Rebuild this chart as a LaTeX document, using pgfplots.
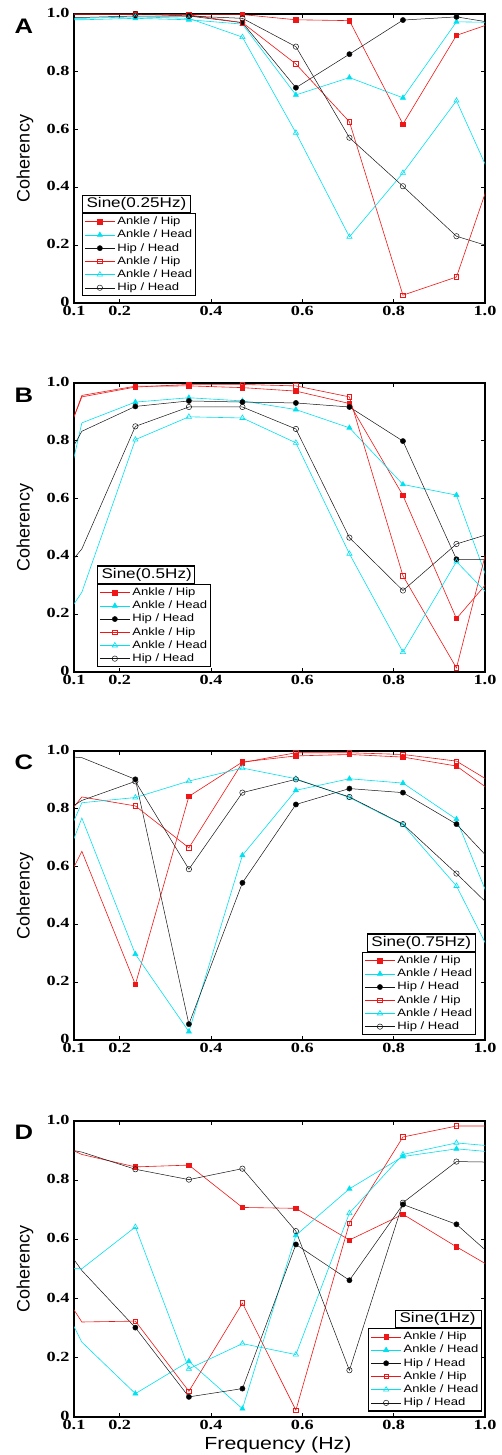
\documentclass[border=0pt]{standalone}
\usepackage{fontspec}
\usepackage{pgfplots}
\usepackage{pgfplotstable}
\pgfplotsset{compat=1.18}
\setmainfont{Liberation Serif}
\newfontfamily\lsans{Liberation Sans}
\newfontfamily\widesans[FakeStretch=1.22]{Liberation Sans}
\newfontfamily\tickfont[FakeStretch=1.3]{Liberation Serif}
\newcommand{\tk}[1]{\mbox{\tickfont\bfseries\fontsize{14}{14}\selectfont #1}}
\definecolor{myred}{RGB}{238,22,22}
\definecolor{mycyan}{RGB}{0,225,240}
\definecolor{myblack}{RGB}{20,20,20}

\pgfplotstableread{
x rf cf bf ro co bo
0      0.998 0.980 0.988 1.000 0.985 1.000
0.1172 0.998 0.980 0.988 1.000 0.985 1.000
0.2344 0.998 0.985 0.993 1.000 0.990 1.000
0.3516 0.998 0.980 0.993 0.997 0.985 0.993
0.4688 0.998 0.965 0.970 0.970 0.920 0.985
0.5859 0.980 0.720 0.745 0.827 0.589 0.887
0.7031 0.977 0.780 0.861 0.627 0.229 0.572
0.8203 0.619 0.710 0.979 0.027 0.450 0.404
0.9375 0.926 0.973 0.990 0.090 0.700 0.231
1.0547 0.990 0.970 0.960 0.630 0.290 0.174
}\dataA
\pgfplotstableread{
x rf cf bf ro co bo
0      0.455 0.050 0.500 0.480 0.000 0.200
0.1172 0.957 0.862 0.833 0.952 0.276 0.426
0.2344 0.989 0.934 0.919 0.986 0.804 0.850
0.3516 0.990 0.949 0.938 0.995 0.883 0.917
0.4688 0.984 0.938 0.934 0.995 0.879 0.917
0.5859 0.972 0.908 0.931 0.990 0.793 0.841
0.7031 0.929 0.845 0.917 0.952 0.409 0.465
0.8203 0.611 0.649 0.799 0.333 0.069 0.282
0.9375 0.185 0.612 0.390 0.014 0.382 0.443
1.0547 0.400 0.104 0.390 0.740 0.190 0.500
}\dataB
\pgfplotstableread{
x rf cf bf ro co bo
0      0.283 0.286 0.990 0.610 0.400 0.710
0.1172 0.653 0.768 0.977 0.841 0.821 0.829
0.2344 0.192 0.297 0.902 0.810 0.839 0.895
0.3516 0.843 0.029 0.055 0.665 0.896 0.591
0.4688 0.962 0.639 0.544 0.960 0.941 0.856
0.5859 0.983 0.864 0.815 0.994 0.904 0.902
0.7031 0.988 0.904 0.870 0.994 0.839 0.841
0.8203 0.979 0.889 0.856 0.988 0.745 0.747
0.9375 0.948 0.764 0.747 0.965 0.533 0.576
1.0547 0.815 0.310 0.550 0.853 0.167 0.396
}\dataC
\pgfplotstableread{
x rf cf bf ro co bo
0      0.970 0.610 0.745 0.600 0.500 0.930
0.1172 0.887 0.253 0.495 0.321 0.501 0.895
0.2344 0.845 0.079 0.302 0.324 0.642 0.837
0.3516 0.851 0.188 0.068 0.087 0.163 0.802
0.4688 0.708 0.028 0.096 0.385 0.248 0.839
0.5859 0.705 0.614 0.583 0.023 0.211 0.628
0.7031 0.598 0.771 0.462 0.655 0.689 0.158
0.8203 0.685 0.880 0.718 0.946 0.887 0.724
0.9375 0.575 0.906 0.651 0.983 0.926 0.863
1.0547 0.470 0.890 0.490 0.983 0.910 0.860
}\dataD

\tikzset{
  ttl/.style={draw=black, line width=1.1pt, fill=white, inner xsep=4pt, inner ysep=0pt,
      minimum height=17.5pt, text height=10.5pt, text depth=3pt, align=left,
      font=\widesans\fontsize{14}{14}\selectfont},
}
\pgfplotsset{
  sRF/.style={color=myred, line width=0.6pt, mark=square*, mark size=2.2pt, mark options={solid, fill=myred}, mark indices={2,3,4,5,6,7,8,9}},
  sCF/.style={color=mycyan, line width=0.6pt, mark=triangle*, mark size=2.9pt, mark options={solid, fill=mycyan}, mark indices={2,3,4,5,6,7,8,9}},
  sBF/.style={color=myblack, line width=0.5pt, mark=*, mark size=2.6pt, mark options={solid, fill=black}, mark indices={2,3,4,5,6,7,8,9}},
  sRO/.style={color=myred, line width=0.6pt, mark=square, mark size=2.3pt, mark options={solid}, mark indices={2,3,4,5,6,7,8,9}},
  sCO/.style={color=mycyan, line width=0.6pt, mark=triangle, mark size=3.0pt, mark options={solid}, mark indices={2,3,4,5,6,7,8,9}},
  sBO/.style={color=myblack, line width=0.5pt, mark=o, mark size=2.7pt, mark options={solid}, mark indices={2,3,4,5,6,7,8,9}},
  panel/.style={
    scale only axis, width=411pt, height=289pt,
    anchor=north west,
    xmin=0.1, xmax=1.0, ymin=0, ymax=1,
    xtick={0.1,0.2,0.4,0.6,0.8,1.0}, xticklabels={\tk{0.1},\tk{0.2},\tk{0.4},\tk{0.6},\tk{0.8},\tk{1.0}},
    ytick={0,0.2,0.4,0.6,0.8,1.0}, yticklabels={\tk{0},\tk{0.2},\tk{0.4},\tk{0.6},\tk{0.8},\tk{1.0}},
    tick align=inside, major tick length=4pt,
    tick style={black, line width=0.8pt},
    axis line style={black, line width=1.2pt},
    xticklabel style={inner ysep=2.5pt},
    yticklabel style={xshift=-1pt, yshift=1pt},
    clip=true,
    legend cell align=left,
    legend image code/.code={\draw[##1,mark indices={2}] plot coordinates {(0pt,0pt) (15pt,0pt) (30pt,0pt)};},
    legend style={draw=black, line width=1.1pt, fill=white,
      font=\widesans\fontsize{10.7}{12}\selectfont,
      inner xsep=2pt, inner ysep=1.5pt,
      nodes={inner sep=1.2pt, text height=8.3pt, text depth=2.5pt},
      row sep=0pt, column sep=1pt},
  },
}

\newcommand{\sixplots}[1]{%
  \addplot[sRF] table[x=x,y=rf]{#1};
  \addplot[sCF] table[x=x,y=cf]{#1};
  \addplot[sBF] table[x=x,y=bf]{#1};
  \addplot[sRO] table[x=x,y=ro]{#1};
  \addplot[sCO] table[x=x,y=co]{#1};
  \addplot[sBO] table[x=x,y=bo]{#1};
  \legend{Ankle / Hip, Ankle / Head, Hip / Head, Ankle / Hip, Ankle / Head, Hip / Head}%
}

\begin{document}
\begin{tikzpicture}
\useasboundingbox (0,0) rectangle (501pt,-1455pt);

% Panel A
\begin{axis}[panel, at={(74pt,-14pt)},
  legend style={at={(0.0195,0.311)}, anchor=north west}]
\sixplots{\dataA}
\node[ttl, anchor=south west, text width=100pt] at (axis description cs:0.0195,0.311) {Sine(0.25Hz)};
\end{axis}

% Panel B
\begin{axis}[panel, at={(74pt,-383pt)},
  legend style={at={(0.056,0.3045)}, anchor=north west}]
\sixplots{\dataB}
\node[ttl, anchor=south west, text width=89pt] at (axis description cs:0.056,0.3045) {Sine(0.5Hz)};
\end{axis}

% Panel C
\begin{axis}[panel, at={(74pt,-751pt)},
  legend style={at={(0.978,0.3045)}, anchor=north east}]
\sixplots{\dataC}
\node[ttl, anchor=south east, text width=100pt] at (axis description cs:0.978,0.3045) {Sine(0.75Hz)};
\end{axis}

% Panel D
\begin{axis}[panel, at={(74pt,-1121pt)}, height=296pt,
  legend style={at={(0.993,0.30)}, anchor=north east}]
\sixplots{\dataD}
\node[ttl, anchor=south east, text width=78pt] at (axis description cs:0.993,0.30) {Sine(1Hz)};
\end{axis}

% Panel letters
\foreach \lab/\yy in {A/26,B/395,C/762,D/1132}{
  \node[font=\widesans\bfseries\fontsize{21}{21}\selectfont] at (24pt,-\yy pt) {\lab};
}
% y labels
\foreach \yy in {158.5,527.5,895.5,1269}{
  \node[rotate=90, font=\lsans\fontsize{18}{18}\selectfont] at (25pt,-\yy pt) {Coherency};
}
% x label
\node[font=\widesans\fontsize{17.5}{17.5}\selectfont] at (278pt,-1445pt) {Frequency (Hz)};
\end{tikzpicture}
\end{document}
